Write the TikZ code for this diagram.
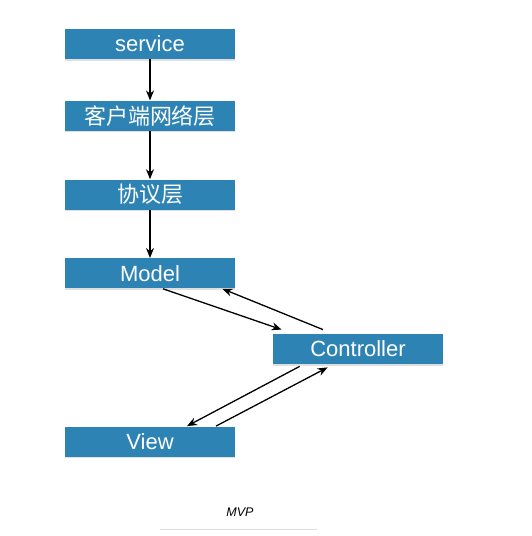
\documentclass[tikz,border=0pt]{standalone}
\usepackage{fontspec}
\setmainfont{Liberation Sans}
\newfontfamily\cjk{Noto Sans CJK SC}
\usetikzlibrary{positioning,shadows,arrows.meta}
\definecolor{boxblue}{RGB}{46,131,181}
\definecolor{rulegray}{RGB}{222,222,222}

\begin{document}
\begin{tikzpicture}[x=1pt,y=-1pt]
        \tikzstyle{every path}=[thick]

        \edef\boxwidth{170pt}
        \tikzstyle{layer}=[fill=boxblue,text=white,minimum width=\boxwidth,minimum height=30pt,
                           inner sep=0pt,font=\fontsize{22}{22}\selectfont,
                           drop shadow={shadow xshift=0pt,shadow yshift=-1.5pt,opacity=.25}]
        \tikzstyle{flow}=[->,>={Stealth[length=10pt,width=8pt]},line width=1.3pt]

        \useasboundingbox (0,0) rectangle (532,536);

        % layers
        \node [layer] at (150,44) (service) {service};
        \node [layer,below=41pt of service] (client) {\cjk 客户端网络层};
        \node [layer,below=48pt of client] (protocol) {\cjk 协议层};
        \node [layer,below=48pt of protocol] (model) {Model};
        \node [layer] at (358,349) (controller) {Controller};
        \node [layer] at (150,441.5) (view) {View};

        \draw[flow] (service) to (client);    % service->client
        \draw[flow] (client) to (protocol);   % client->protocol
        \draw[flow] (protocol) to (model);    % protocol->model

        \draw[flow] ([xshift=13pt]model.south) to ([xshift=9pt,yshift=4pt]controller.north west);     % model->controller
        \draw[flow] ([xshift=-35pt,yshift=4pt]controller.north) to ([xshift=-13pt]model.south east);  % controller->model
        \draw[flow] ([xshift=27pt,yshift=-2pt]controller.south west) to ([xshift=37pt]view.north);    % controller->view
        \draw[flow] ([xshift=66pt]view.north) to ([xshift=55pt,yshift=-3pt]controller.south west);   % view->controller

        % caption
        \node [font=\itshape\fontsize{12.5}{12.5}\selectfont] at (240,512) (caption) {MVP};
        \coordinate (ruleL) at (160,529);
        \coordinate (ruleR) at (317,529);
        \draw[rulegray,line width=1pt] (ruleL) -- (ruleR);
\end{tikzpicture}
\end{document}
